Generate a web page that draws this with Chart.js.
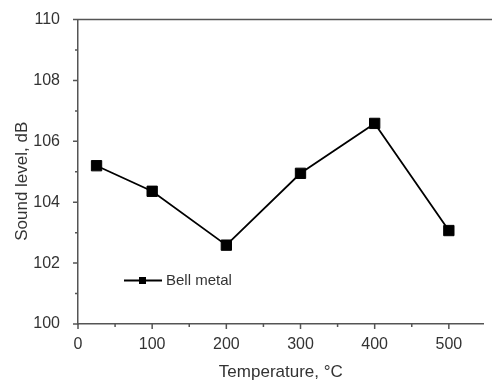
<!DOCTYPE html>
<html>
<head>
<meta charset="utf-8">
<script src="https://cdn.jsdelivr.net/npm/chart.js@4/dist/chart.umd.min.js"></script>
<style>
  html, body { margin: 0; padding: 0; background: #fff; }
  #wrap { width: 492px; height: 385px; }
</style>
</head>
<body>
<div id="wrap"><canvas id="soundChart" width="492" height="385"></canvas></div>
<script>
// Datos
const temperatures = [25, 100, 200, 300, 400, 500];
const soundLevels = [105.2, 104.36, 102.59, 104.95, 106.59, 103.07];
const seriesName = "Bell metal";
const xTickValues = [0, 50, 100, 150, 200, 250, 300, 350, 400, 450, 500];
const yTickValues = [100, 101, 102, 103, 104, 105, 106, 107, 108, 109, 110];

const axisColor = "#555";
const textColor = "#333";
const fontFamily = "'Liberation Sans', Arial, sans-serif";

// Marcas menores/mayores, linea superior y leyenda
const axisDecor = {
  id: "axisDecor",
  afterDraw(chart) {
    const { ctx, chartArea, scales } = chart;
    ctx.save();
    ctx.strokeStyle = axisColor;
    ctx.lineWidth = 1.5;
    ctx.beginPath();
    ctx.moveTo(chartArea.left, chartArea.top);
    ctx.lineTo(chart.width, chartArea.top);
    xTickValues.forEach((v) => {
      const x = scales.x.getPixelForValue(v);
      const len = v % 100 === 0 ? 5 : 3;
      ctx.moveTo(x, chartArea.bottom);
      ctx.lineTo(x, chartArea.bottom + len);
    });
    yTickValues.forEach((v) => {
      const y = scales.y.getPixelForValue(v);
      const len = v % 2 === 0 ? 5 : 3;
      ctx.moveTo(chartArea.left, y);
      ctx.lineTo(chartArea.left - len, y);
    });
    ctx.stroke();

    // leyenda
    ctx.strokeStyle = "#000";
    ctx.lineWidth = 2;
    ctx.beginPath();
    ctx.moveTo(124, 280.5);
    ctx.lineTo(162, 280.5);
    ctx.stroke();
    ctx.fillStyle = "#000";
    ctx.fillRect(139, 277, 7, 7);
    ctx.fillStyle = textColor;
    ctx.font = "15px " + fontFamily;
    ctx.textBaseline = "middle";
    ctx.fillText(seriesName, 166, 281);
    ctx.restore();
  }
};

new Chart(document.getElementById("soundChart"), {
  type: "line",
  data: {
    datasets: [{
      label: seriesName,
      data: temperatures.map((t, i) => ({ x: t, y: soundLevels[i] })),
      borderColor: "#000",
      backgroundColor: "#000",
      borderWidth: 1.8,
      pointStyle: "rect",
      pointRadius: 7.3,
      pointBorderWidth: 1,
      tension: 0
    }]
  },
  options: {
    responsive: false,
    animation: false,
    devicePixelRatio: 1,
    layout: { padding: { top: 18, left: 0, right: 0, bottom: 0 } },
    plugins: { legend: { display: false }, tooltip: { enabled: false } },
    scales: {
      x: {
        type: "linear",
        min: 0,
        max: 547,
        grid: { display: false },
        border: { display: true, color: axisColor, width: 1.5 },
        afterBuildTicks: (scale) => { scale.ticks = xTickValues.map((v) => ({ value: v })); },
        afterFit: (scale) => { scale.height = 61; },
        ticks: {
          autoSkip: false,
          maxRotation: 0,
          padding: 3,
          color: textColor,
          font: { family: fontFamily, size: 16 },
          callback: (v) => (v % 100 === 0 ? String(v) : "")
        },
        title: {
          display: true,
          text: "Temperature, °C",
          color: textColor,
          font: { family: fontFamily, size: 17 },
          padding: { top: 0, bottom: 2 }
        }
      },
      y: {
        min: 100,
        max: 110,
        grid: { display: false },
        border: { display: true, color: axisColor, width: 1.5 },
        afterBuildTicks: (scale) => { scale.ticks = yTickValues.map((v) => ({ value: v })); },
        afterFit: (scale) => { scale.width = 78; },
        ticks: {
          autoSkip: false,
          padding: 10,
          color: textColor,
          font: { family: fontFamily, size: 16 },
          callback: (v) => (v % 2 === 0 ? String(v) : "")
        },
        title: {
          display: true,
          text: "Sound level, dB    ",
          color: textColor,
          font: { family: fontFamily, size: 17 },
          padding: { top: 12, bottom: 0 }
        }
      }
    }
  },
  plugins: [axisDecor]
});
</script>
</body>
</html>
